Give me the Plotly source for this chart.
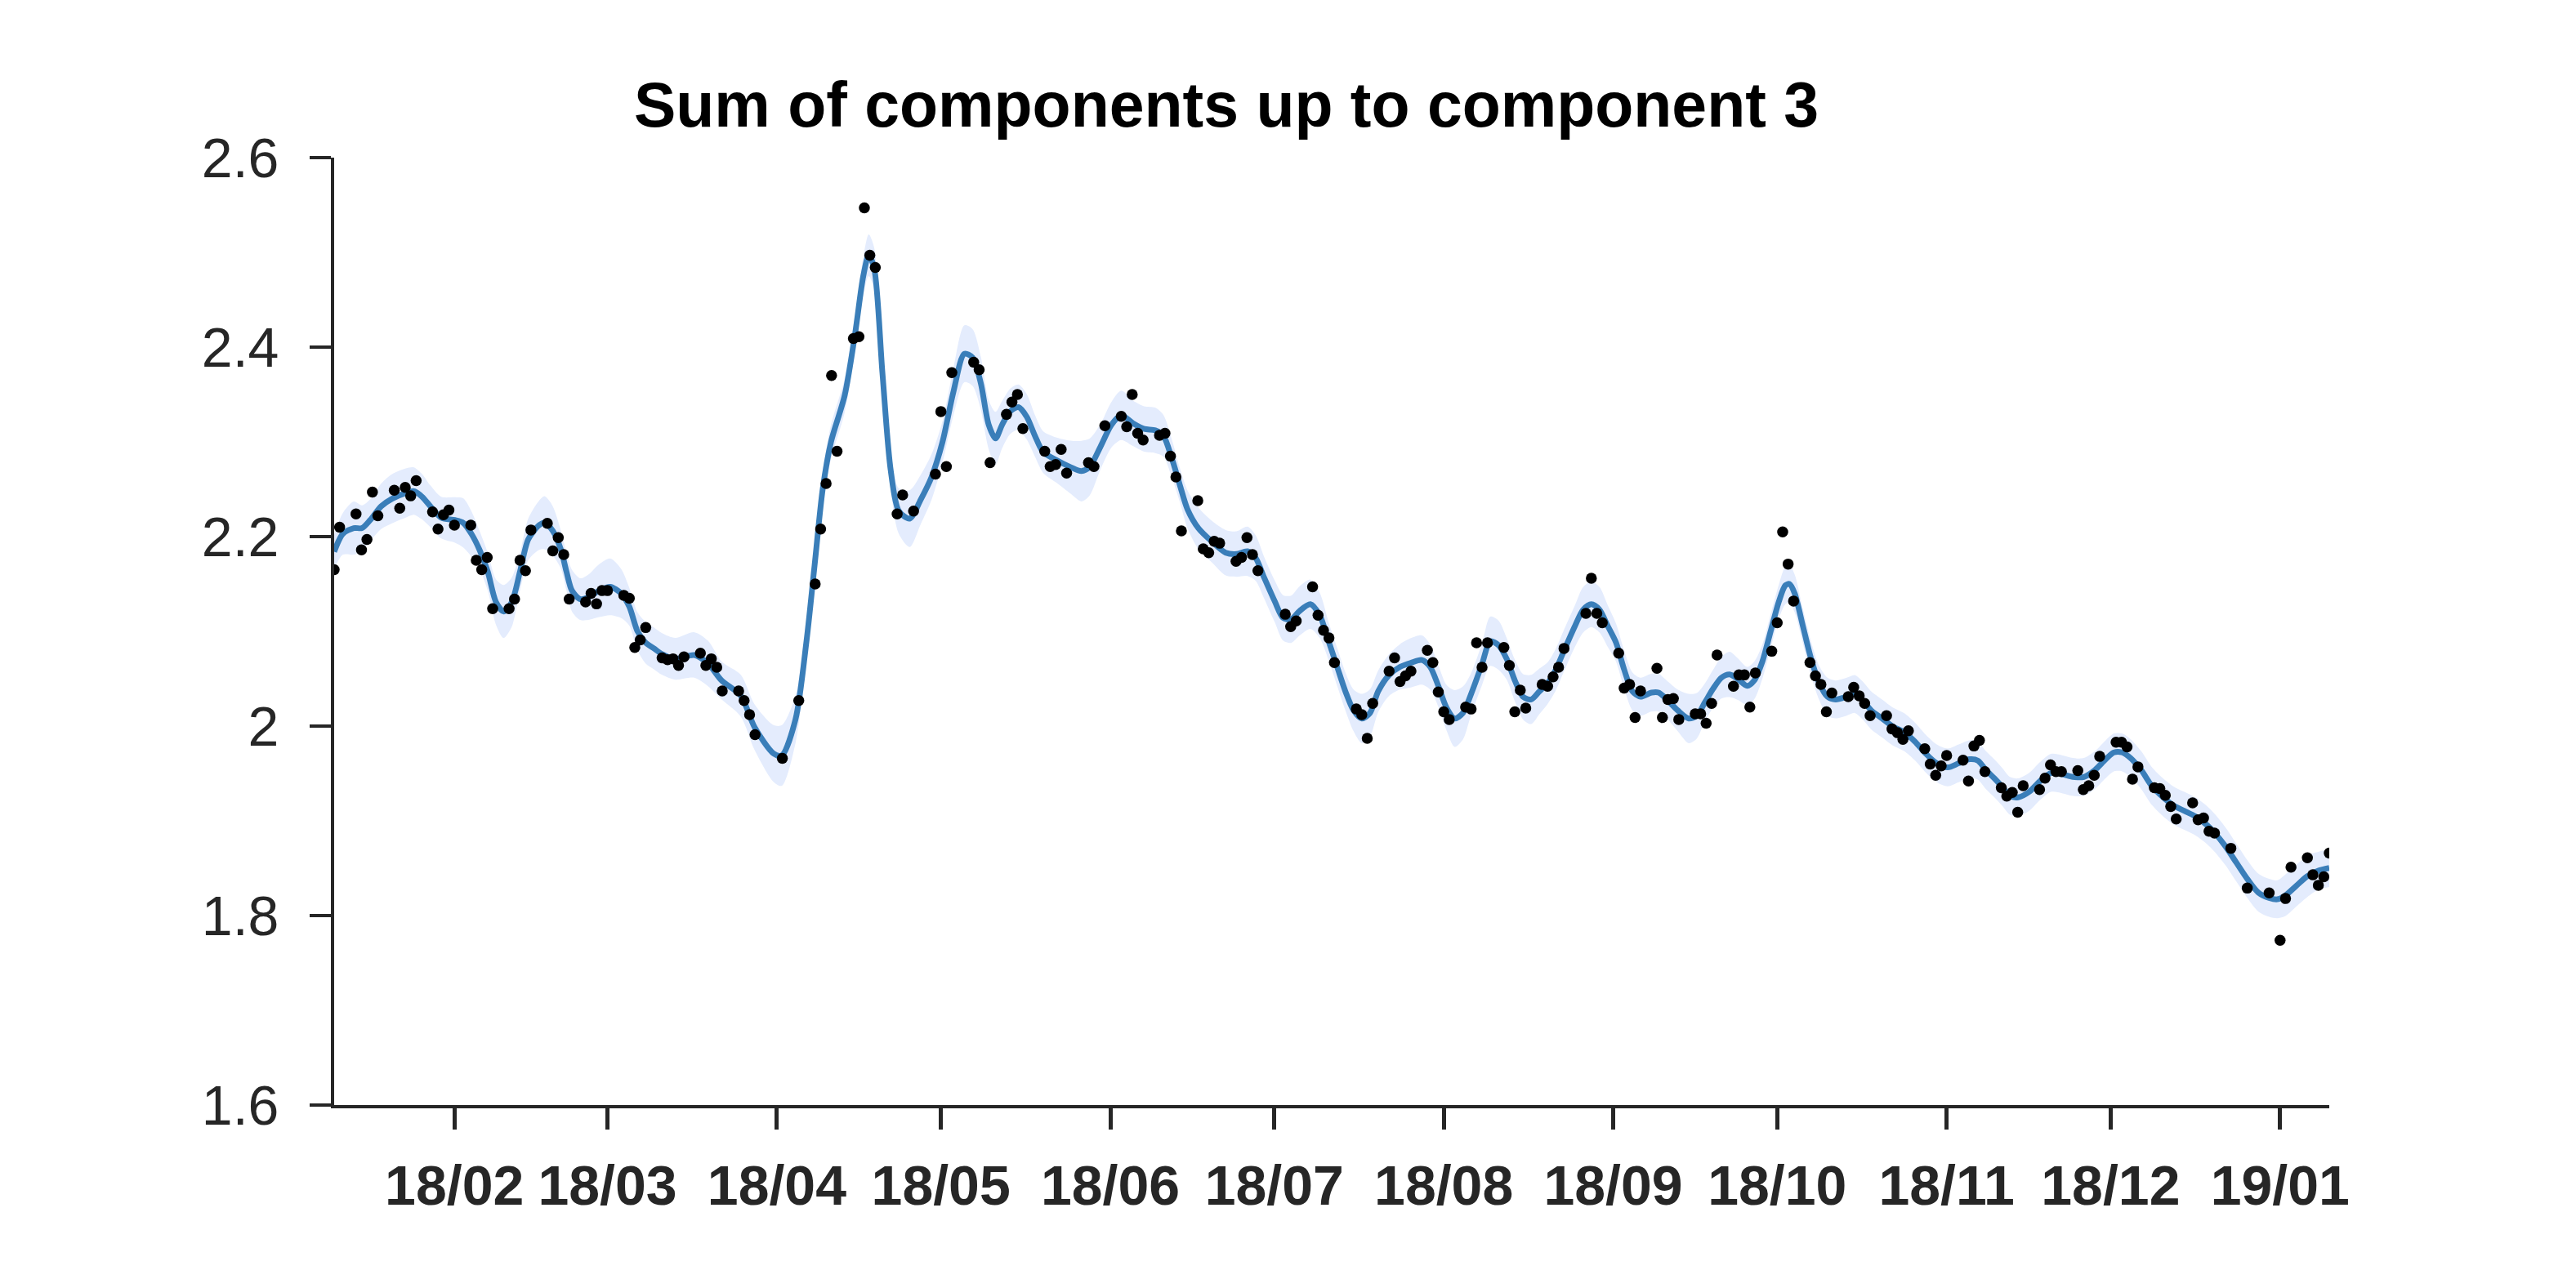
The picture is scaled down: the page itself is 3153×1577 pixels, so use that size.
import pandas as pd
import plotly.graph_objects as go

# ---------------- data ----------------
obs_dates = [
    "2018-01-11", "2018-01-12", "2018-01-15", "2018-01-16", "2018-01-17", "2018-01-18", "2018-01-19",
    "2018-01-22", "2018-01-23", "2018-01-24", "2018-01-25", "2018-01-26", "2018-01-29", "2018-01-30",
    "2018-01-31", "2018-02-01", "2018-02-02", "2018-02-05", "2018-02-06", "2018-02-07", "2018-02-08",
    "2018-02-09", "2018-02-12", "2018-02-13", "2018-02-14", "2018-02-15", "2018-02-16", "2018-02-19",
    "2018-02-20", "2018-02-21", "2018-02-22", "2018-02-23", "2018-02-26", "2018-02-27", "2018-02-28",
    "2018-03-01", "2018-03-02", "2018-03-05", "2018-03-06", "2018-03-07", "2018-03-08", "2018-03-09",
    "2018-03-12", "2018-03-13", "2018-03-14", "2018-03-15", "2018-03-16", "2018-03-19", "2018-03-20",
    "2018-03-21", "2018-03-22", "2018-03-23", "2018-03-26", "2018-03-27", "2018-03-28", "2018-03-29",
    "2018-04-03", "2018-04-06", "2018-04-09", "2018-04-10", "2018-04-11", "2018-04-12", "2018-04-13",
    "2018-04-16", "2018-04-17", "2018-04-18", "2018-04-19", "2018-04-20", "2018-04-24", "2018-04-25",
    "2018-04-27", "2018-05-01", "2018-05-02", "2018-05-03", "2018-05-04", "2018-05-08", "2018-05-09",
    "2018-05-11", "2018-05-14", "2018-05-15", "2018-05-16", "2018-05-17", "2018-05-21", "2018-05-22",
    "2018-05-23", "2018-05-24", "2018-05-25", "2018-05-29", "2018-05-30", "2018-06-01", "2018-06-04",
    "2018-06-05", "2018-06-06", "2018-06-07", "2018-06-08", "2018-06-11", "2018-06-12", "2018-06-13",
    "2018-06-14", "2018-06-15", "2018-06-18", "2018-06-19", "2018-06-20", "2018-06-21", "2018-06-22",
    "2018-06-25", "2018-06-26", "2018-06-27", "2018-06-28", "2018-06-29", "2018-07-04", "2018-07-05",
    "2018-07-06", "2018-07-09", "2018-07-10", "2018-07-11", "2018-07-12", "2018-07-13", "2018-07-17",
    "2018-07-18", "2018-07-19", "2018-07-20", "2018-07-23", "2018-07-24", "2018-07-25", "2018-07-26",
    "2018-07-27", "2018-07-30", "2018-07-31", "2018-08-01", "2018-08-02", "2018-08-03", "2018-08-06",
    "2018-08-07", "2018-08-08", "2018-08-09", "2018-08-10", "2018-08-13", "2018-08-14", "2018-08-15",
    "2018-08-16", "2018-08-17", "2018-08-20", "2018-08-21", "2018-08-22", "2018-08-23", "2018-08-24",
    "2018-08-28", "2018-08-29", "2018-08-30", "2018-08-31", "2018-09-03", "2018-09-04", "2018-09-05",
    "2018-09-06", "2018-09-07", "2018-09-10", "2018-09-11", "2018-09-12", "2018-09-13", "2018-09-14",
    "2018-09-17", "2018-09-18", "2018-09-19", "2018-09-20", "2018-09-21", "2018-09-24", "2018-09-25",
    "2018-09-26", "2018-09-27", "2018-09-28", "2018-10-01", "2018-10-02", "2018-10-03", "2018-10-04",
    "2018-10-05", "2018-10-08", "2018-10-09", "2018-10-10", "2018-10-11", "2018-10-12", "2018-10-15",
    "2018-10-16", "2018-10-17", "2018-10-18", "2018-10-19", "2018-10-22", "2018-10-23", "2018-10-24",
    "2018-10-25", "2018-10-26", "2018-10-29", "2018-10-30", "2018-10-31", "2018-11-01", "2018-11-02",
    "2018-11-05", "2018-11-06", "2018-11-07", "2018-11-08", "2018-11-09", "2018-11-12", "2018-11-13",
    "2018-11-14", "2018-11-15", "2018-11-16", "2018-11-19", "2018-11-20", "2018-11-21", "2018-11-22",
    "2018-11-23", "2018-11-26", "2018-11-27", "2018-11-28", "2018-11-29", "2018-11-30", "2018-12-03",
    "2018-12-04", "2018-12-05", "2018-12-06", "2018-12-07", "2018-12-10", "2018-12-11", "2018-12-12",
    "2018-12-13", "2018-12-14", "2018-12-17", "2018-12-18", "2018-12-19", "2018-12-20", "2018-12-21",
    "2018-12-24", "2018-12-27", "2018-12-31", "2019-01-02", "2019-01-03", "2019-01-04", "2019-01-07",
    "2019-01-08", "2019-01-09", "2019-01-10", "2019-01-11",
]
obs_values = [
    2.165, 2.210, 2.224, 2.186, 2.197, 2.247, 2.222,
    2.249, 2.230, 2.252, 2.243, 2.259, 2.226, 2.208,
    2.223, 2.228, 2.212, 2.212, 2.175, 2.165, 2.178,
    2.124, 2.124, 2.134, 2.175, 2.164, 2.207, 2.214,
    2.185, 2.199, 2.181, 2.134, 2.131, 2.140, 2.129,
    2.143, 2.143, 2.138, 2.135, 2.083, 2.091, 2.104,
    2.072, 2.070, 2.071, 2.064, 2.073, 2.077, 2.064,
    2.071, 2.062, 2.037, 2.037, 2.027, 2.012, 1.991,
    1.966, 2.027, 2.150, 2.208, 2.256, 2.370, 2.290,
    2.409, 2.411, 2.547, 2.497, 2.484, 2.224, 2.244,
    2.227, 2.266, 2.332, 2.274, 2.373, 2.384, 2.376,
    2.278, 2.329, 2.342, 2.350, 2.314, 2.290, 2.274,
    2.276, 2.292, 2.267, 2.278, 2.274, 2.317, 2.327,
    2.316, 2.350, 2.309, 2.302, 2.307, 2.309, 2.285,
    2.263, 2.206, 2.238, 2.187, 2.183, 2.195, 2.193,
    2.174, 2.178, 2.199, 2.181, 2.164, 2.118, 2.105,
    2.111, 2.147, 2.117, 2.101, 2.093, 2.067, 2.018,
    2.012, 1.987, 2.024, 2.058, 2.072, 2.047, 2.053,
    2.058, 2.080, 2.067, 2.036, 2.015, 2.007, 2.020,
    2.018, 2.088, 2.062, 2.088, 2.083, 2.064, 2.015,
    2.038, 2.019, 2.044, 2.042, 2.052, 2.062, 2.082,
    2.119, 2.156, 2.119, 2.109, 2.077, 2.040, 2.044,
    2.009, 2.037, 2.061, 2.009, 2.028, 2.029, 2.007,
    2.013, 2.013, 2.003, 2.024, 2.075, 2.042, 2.054,
    2.054, 2.020, 2.056, 2.079, 2.109, 2.205, 2.171,
    2.132, 2.067, 2.053, 2.044, 2.015, 2.035, 2.031,
    2.041, 2.032, 2.024, 2.011, 2.011, 1.997, 1.993,
    1.986, 1.995, 1.976, 1.960, 1.948, 1.958, 1.969,
    1.964, 1.942, 1.979, 1.985, 1.952, 1.935, 1.926,
    1.930, 1.909, 1.937, 1.933, 1.945, 1.959, 1.952,
    1.952, 1.953, 1.933, 1.937, 1.948, 1.968, 1.983,
    1.983, 1.978, 1.944, 1.957, 1.935, 1.934, 1.927,
    1.915, 1.902, 1.919, 1.901, 1.903, 1.889, 1.887,
    1.871, 1.829, 1.824, 1.774, 1.818, 1.851, 1.861,
    1.843, 1.832, 1.841, 1.866,
]

# posterior mean of the summed components (days after 2018-01-11) and its half band width
curve_start = "2018-01-11"
curve_day = [
    0, 1.6, 3.6, 5.1, 6.6, 8.6, 10.6, 13.1, 14.6, 16.1, 17.6, 19.6, 22.1, 23.6, 25.1, 26.6, 28.1, 29.6,
    31.0, 32.5, 34.0, 35.5, 37.5, 38.5, 40.0, 41.5, 42.5, 43.5, 45.0, 46.5, 48.5, 50.5, 52.5, 54.0, 55.5,
    57.0, 58.5, 60.0, 62.4, 65.9, 68.4, 70.9, 74.4, 76.9, 80.4, 81.9, 84.4, 86.4, 87.9, 89.4, 90.9, 93.4,
    95.3, 96.8, 97.8, 98.8, 100.3, 101.8, 103.3, 105.3, 107.3, 109.3, 111.3, 113.3, 115.3, 116.8, 118.3,
    119.75, 121.0, 122.2, 123.7, 125.2, 126.7, 128.2, 129.7, 132.2, 134.7, 136.7, 138.2, 140.2, 142.2,
    144.0, 146.2, 148.2, 150.2, 151.7, 153.2, 154.7, 156.1, 158.1, 160.6, 163.1, 165.1, 167.1, 168.6,
    170.1, 172.1, 173.6, 175.1, 176.6, 178.6, 180.3, 182.0, 183.5, 185.0, 186.5, 188.0, 189.5, 191.0,
    193.0, 195.0, 197.0, 199.0, 200.5, 202.0, 203.5, 205.0, 206.5, 208.0, 210.0, 211.5, 213.0, 214.5,
    216.0, 217.5, 219.0, 220.5, 222.0, 223.5, 225.0, 227.0, 228.5, 230.0, 231.5, 233.0, 234.5, 236.0,
    237.5, 239.0, 241.0, 242.3, 243.8, 245.8, 247.8, 249.3, 250.8, 252.3, 253.8, 255.3, 256.8, 258.5,
    259.8, 261.3, 262.8, 264.3, 265.5, 266.25, 267.2, 268.7, 270.2, 271.7, 273.2, 274.7, 276.7, 278.2,
    279.7, 281.2, 283.2, 285.2, 287.2, 289.2, 291.2, 293.2, 295.2, 297.2, 299.2, 300.7, 302.2, 303.7,
    305.1, 306.6, 308.1, 310.1, 312.1, 314.1, 316.1, 318.1, 320.1, 322.1, 324.1, 325.6, 327.1, 328.6,
    330.6, 332.6, 334.6, 336.5, 338.5, 340.5, 342.5, 344.0, 346.0, 348.0, 350.0, 352.0, 354.0, 355.5,
    357.0, 359.0, 361.0, 363.0, 365.0,
]
curve_mean = [
    2.184, 2.203, 2.209, 2.209, 2.2175, 2.232, 2.240, 2.246, 2.248, 2.242, 2.232, 2.220, 2.2175, 2.2146,
    2.203, 2.186, 2.163, 2.131, 2.121, 2.131, 2.163, 2.197, 2.212, 2.2146, 2.206, 2.186, 2.163, 2.143,
    2.134, 2.136, 2.143, 2.147, 2.140, 2.126, 2.100, 2.088, 2.082, 2.076, 2.071, 2.075, 2.066, 2.048,
    2.032, 1.999, 1.971, 1.969, 2.007, 2.089, 2.170, 2.251, 2.300, 2.349, 2.414, 2.475, 2.497, 2.483,
    2.373, 2.271, 2.227, 2.219, 2.239, 2.263, 2.300, 2.353, 2.393, 2.389, 2.362, 2.318, 2.3036, 2.318,
    2.3323, 2.3366, 2.3265, 2.3065, 2.2893, 2.2806, 2.2734, 2.2691, 2.2734, 2.295, 2.318, 2.328, 2.3194,
    2.3136, 2.3122, 2.3065, 2.2835, 2.2548, 2.229, 2.2089, 2.1946, 2.183, 2.1816, 2.1845, 2.1773, 2.1572,
    2.1314, 2.1142, 2.1128, 2.1214, 2.1286, 2.117, 2.0884, 2.0625, 2.0367, 2.0166, 2.008, 2.0138, 2.0367,
    2.0539, 2.0625, 2.0668, 2.0697, 2.0625, 2.0425, 2.0195, 2.008, 2.0138, 2.0339, 2.0654, 2.0895,
    2.0855, 2.0711, 2.0482, 2.031, 2.0281, 2.0367, 2.0453, 2.0597, 2.0797, 2.1056, 2.1228, 2.1286,
    2.1228, 2.1056, 2.0884, 2.0597, 2.0367, 2.031, 2.0353, 2.0353, 2.0281, 2.0166, 2.008, 2.0109, 2.0253,
    2.0396, 2.0511, 2.0545, 2.0496, 2.0425, 2.0482, 2.0683, 2.100, 2.1314, 2.1486, 2.150, 2.140, 2.1056,
    2.0711, 2.0453, 2.031, 2.0281, 2.031, 2.0339, 2.0267, 2.0166, 2.008, 1.9994, 1.9937, 1.9837, 1.9708,
    1.9607, 1.9564, 1.9607, 1.965, 1.9636, 1.9535, 1.945, 1.9363, 1.9263, 1.9248, 1.9306, 1.942, 1.9506,
    1.9492, 1.9463, 1.9463, 1.9535, 1.965, 1.9722, 1.9722, 1.9665, 1.9535, 1.9363, 1.9248, 1.9162,
    1.9105, 1.9047, 1.8961, 1.8875, 1.8732, 1.8559, 1.8387, 1.8244, 1.8187, 1.8172, 1.8215, 1.8316,
    1.8416, 1.8473, 1.8502,
]
curve_half = [
    0.018, 0.022, 0.028, 0.024, 0.022, 0.024, 0.026, 0.026, 0.025, 0.024, 0.022, 0.022, 0.024, 0.026,
    0.024, 0.020, 0.020, 0.024, 0.028, 0.026, 0.020, 0.022, 0.026, 0.028, 0.026, 0.020, 0.020, 0.022,
    0.022, 0.024, 0.028, 0.030, 0.026, 0.020, 0.020, 0.022, 0.022, 0.022, 0.022, 0.024, 0.024, 0.020,
    0.022, 0.024, 0.030, 0.032, 0.025, 0.020, 0.018, 0.018, 0.018, 0.018, 0.018, 0.020, 0.022, 0.022,
    0.018, 0.020, 0.024, 0.030, 0.026, 0.024, 0.022, 0.025, 0.030, 0.030, 0.028, 0.026, 0.028, 0.025,
    0.024, 0.024, 0.024, 0.022, 0.022, 0.024, 0.028, 0.032, 0.030, 0.024, 0.024, 0.026, 0.024, 0.024,
    0.024, 0.022, 0.020, 0.018, 0.020, 0.022, 0.022, 0.024, 0.024, 0.026, 0.024, 0.022, 0.022, 0.024,
    0.025, 0.026, 0.026, 0.024, 0.020, 0.020, 0.020, 0.022, 0.026, 0.025, 0.022, 0.022, 0.024, 0.026,
    0.026, 0.024, 0.022, 0.024, 0.030, 0.028, 0.022, 0.022, 0.026, 0.026, 0.022, 0.022, 0.024, 0.026,
    0.024, 0.022, 0.022, 0.022, 0.022, 0.024, 0.024, 0.024, 0.022, 0.020, 0.020, 0.020, 0.020, 0.020,
    0.020, 0.020, 0.022, 0.026, 0.024, 0.020, 0.020, 0.022, 0.024, 0.022, 0.020, 0.020, 0.018, 0.018,
    0.018, 0.020, 0.020, 0.020, 0.018, 0.018, 0.018, 0.020, 0.020, 0.020, 0.020, 0.020, 0.020, 0.020,
    0.020, 0.020, 0.020, 0.020, 0.020, 0.020, 0.020, 0.020, 0.020, 0.020, 0.020, 0.020, 0.020, 0.020,
    0.020, 0.020, 0.020, 0.020, 0.020, 0.020, 0.020, 0.020, 0.020, 0.020, 0.020, 0.020, 0.020, 0.020,
    0.020, 0.020, 0.020, 0.020, 0.020, 0.020, 0.020, 0.020, 0.020, 0.020, 0.020, 0.022, 0.022, 0.022,
    0.020, 0.020, 0.020, 0.020, 0.020,
]

tick_positions = ["2018-02-02", "2018-03-02", "2018-04-02", "2018-05-02", "2018-06-02", "2018-07-02",
                  "2018-08-02", "2018-09-02", "2018-10-02", "2018-11-02", "2018-12-02", "2019-01-02"]
tick_labels = ["18/02", "18/03", "18/04", "18/05", "18/06", "18/07",
               "18/08", "18/09", "18/10", "18/11", "18/12", "19/01"]
y_ticks = [1.6, 1.8, 2.0, 2.2, 2.4, 2.6]
y_tick_labels = ["1.6", "1.8", "2", "2.2", "2.4", "2.6"]
title_text = "Sum of components up to component 3"

# ---------------- figure ----------------
curve_x = pd.Timestamp(curve_start) + pd.to_timedelta(curve_day, unit="D")
upper = [m + h for m, h in zip(curve_mean, curve_half)]
lower = [m - h for m, h in zip(curve_mean, curve_half)]

AX = "#262626"
fig = go.Figure()
fig.add_trace(go.Scatter(x=curve_x, y=upper, mode="lines",
                         line=dict(width=0, shape="spline", smoothing=0.8, color="#e4ecfd"),
                         hoverinfo="skip", showlegend=False))
fig.add_trace(go.Scatter(x=curve_x, y=lower, mode="lines", fill="tonexty", fillcolor="#e4ecfd",
                         line=dict(width=0, shape="spline", smoothing=0.8, color="#e4ecfd"),
                         hoverinfo="skip", showlegend=False))
fig.add_trace(go.Scatter(x=curve_x, y=curve_mean, mode="lines",
                         line=dict(width=7, shape="spline", smoothing=0.8, color="#3a7eb9"),
                         showlegend=False))
fig.add_trace(go.Scatter(x=pd.to_datetime(obs_dates), y=obs_values, mode="markers",
                         marker=dict(size=13.5, color="#000000", line=dict(width=0)),
                         showlegend=False))

fig.update_layout(
    width=3153, height=1577,
    margin=dict(l=409, r=302, t=193, b=224, pad=0),
    paper_bgcolor="white", plot_bgcolor="white",
    showlegend=False, hovermode=False,
    title=dict(text=title_text, x=1501 / 3153, xanchor="center", xref="container",
               y=1 - 128 / 1577, yref="container", yanchor="middle",
               font=dict(family="Liberation Sans", size=77, color="#000000", weight="bold")),
)
fig.update_xaxes(
    type="date", range=["2018-01-11", "2019-01-11"],
    tickmode="array", tickvals=tick_positions, ticktext=tick_labels,
    showline=True, linecolor=AX, linewidth=4, mirror=False,
    ticks="outside", ticklen=26, tickwidth=5, tickcolor=AX,
    tickfont=dict(family="Liberation Sans", size=68, color=AX, weight="bold"),
    ticklabelstandoff=10,
    showgrid=False, zeroline=False,
)
fig.update_yaxes(
    range=[1.6, 2.6], tickmode="array", tickvals=y_ticks, ticktext=y_tick_labels,
    showline=True, linecolor=AX, linewidth=4, mirror=False,
    ticks="outside", ticklen=26, tickwidth=4, tickcolor=AX,
    tickfont=dict(family="Liberation Sans", size=68, color=AX),
    ticklabelstandoff=24,
    showgrid=False, zeroline=False,
)

fig.write_html("out.html")
